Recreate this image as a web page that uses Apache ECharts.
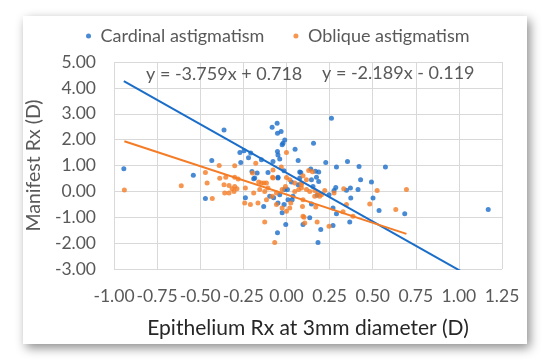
<!DOCTYPE html>
<html><head><meta charset="utf-8">
<script src="https://cdn.jsdelivr.net/npm/echarts@6/dist/echarts.min.js"></script>
<style>html,body{margin:0;padding:0;background:#fff}#c{width:550px;height:362px}</style>
</head><body><div id="c"></div>
<script>
const seriesNames = ['Cardinal astigmatism', 'Oblique astigmatism'];
const cardinalX = [-0.943,-0.54,-0.362,-0.433,-0.27,-0.246,-0.207,-0.22,-0.265,-0.145,-0.083,-0.054,-0.052,-0.031,-0.01,-0.02,-0.025,-0.052,-0.049,-0.039,-0.078,0.05,0.068,0.077,0.083,-0.014,-0.2,-0.17,-0.107,-0.049,-0.19,0.261,0.157,0.228,0.354,0.29,0.421,0.574,0.141,0.168,0.187,0.174,0.43,0.077,0.145,0.187,0.154,0.247,0.286,0.276,0.371,0.415,0.348,0.493,0.373,0.502,0.537,0.686,1.17,0.27,0.29,0.367,0.27,0.199,0.183,0.135,0.096,0.145,0.178,-0.47,-0.238,-0.184,-0.049,-0.097,-0.132,-0.074,-0.039,-0.049,-0.052,-0.025,-0.004,-0.014,0.009,0.033,-0.01,0.006,0.038,0.029,0.068];
const cardinalY = [0.87,0.62,2.37,1.19,1.50,1.57,1.48,1.30,1.12,1.22,2.48,2.63,2.25,2.31,1.99,1.86,1.80,1.54,1.41,1.25,1.15,1.63,1.19,0.75,0.73,0.80,0.77,0.71,0.73,0.55,0.49,2.83,1.86,1.12,1.15,0.94,0.96,0.94,0.86,0.78,0.75,0.55,0.45,0.52,0.45,0.38,0.19,-0.13,0.15,0.03,0.13,0.07,0.04,0.36,-0.26,-0.26,-0.74,-0.86,-0.70,-0.64,-0.86,-1.18,-1.32,-1.47,-1.98,-1.02,-1.28,-0.49,-0.15,-0.28,-0.25,0.52,0.52,-0.19,-0.58,-0.25,-0.13,-0.45,-1.60,-0.83,-1.28,-0.51,-0.32,-0.32,0.07,0.07,-0.19,0.36,0.26];
const obliqueX = [-0.94,-0.61,0.0,-0.03,-0.39,-0.47,-0.30,-0.197,-0.178,-0.078,-0.387,-0.352,-0.30,-0.28,-0.08,0.129,0.151,0.096,-0.43,-0.46,-0.362,-0.333,-0.315,-0.30,-0.287,-0.304,-0.358,-0.333,-0.238,-0.19,-0.242,-0.209,-0.165,-0.161,-0.145,-0.13,-0.116,-0.078,-0.155,-0.126,-0.107,-0.116,-0.083,-0.058,-0.025,-0.058,-0.126,-0.068,-0.025,0.0,0.019,0.025,-0.006,0.048,0.048,0.071,0.087,0.096,0.096,0.087,0.0,0.019,0.116,0.087,0.116,0.135,0.164,0.183,0.203,0.222,0.193,0.164,0.276,0.332,0.526,0.696,0.483,0.634,0.348,0.247,0.178,0.106,0.102,0.093,0.17,0.328,0.386];
const obliqueY = [0.05,0.22,1.50,0.94,1.00,0.73,0.99,0.71,1.09,0.83,0.51,0.55,0.55,0.48,0.55,0.81,0.76,0.60,-0.28,0.32,0.26,0.23,0.10,0.19,0.10,0.00,-0.06,-0.06,0.13,-0.06,-0.45,-0.51,-0.45,0.36,0.32,0.32,0.32,0.52,0.07,0.00,0.13,-0.32,-0.19,-0.06,0.07,-0.51,-1.18,-1.98,-0.64,-0.77,-0.64,-0.45,0.19,0.00,0.32,0.07,0.13,-0.32,-0.96,0.32,0.54,0.45,0.45,0.26,0.07,0.00,0.03,-0.06,-0.13,0.03,-0.19,-0.19,-0.06,0.10,0.03,0.07,-0.49,-0.70,-0.51,-1.35,-1.18,-1.22,-1.00,-0.58,-0.60,-0.79,-0.96];
// Trendline equations as printed on the chart
const trendSlope = [-3.759, -2.189];
const trendIntercept = [0.718, -0.119];
const trendLabels = ['y = -3.759x + 0.718', 'y = -2.189x - 0.119'];
const xTicks = {min: -1.0, max: 1.25, step: 0.25};
const yTicks = {min: -3.0, max: 5.0, step: 1.0};

const colors = ['#1a6dc8', '#f47c26'];
const FONT = 'Lato';
const TXT = '#595959';

function pairs(xs, ys){ return xs.map((x,i)=>[x, ys[i]]); }
function trend(xs, k){
  const lo = Math.min(...xs), hi = Math.max(...xs);
  return [[lo, trendSlope[k]*lo + trendIntercept[k]], [hi, trendSlope[k]*hi + trendIntercept[k]]];
}
const allX = [cardinalX, obliqueX];

const chart = echarts.init(document.getElementById('c'), null, {renderer:'canvas'});
chart.setOption({
  animation: false,
  color: colors,
  textStyle: {fontFamily: FONT, color: TXT},
  graphic: [
    {type:'rect', z:-10, shape:{x:23,y:16,width:504,height:328},
     style:{fill:'#fff', shadowBlur:10, shadowColor:'rgba(0,0,0,0.45)', shadowOffsetX:3, shadowOffsetY:4}},
    {type:'text', z:10, left: 146, top: 65, style:{text: trendLabels[0], font: '18px Lato', fill: TXT}},
    {type:'text', z:10, left: 322, top: 64, style:{text: trendLabels[1], font: '18px Lato', fill: TXT}}
  ],
  legend: {
    data: seriesNames, top: 22, left: 81, itemGap: 29, itemWidth: 14, itemHeight: 5, icon: 'circle',
    textStyle: {fontFamily: FONT, fontSize: 18, color: TXT}
  },
  grid: {left: 114, right: 48, top: 62, bottom: 93, containLabel: false},
  xAxis: {
    type: 'value', min: xTicks.min, max: xTicks.max, interval: xTicks.step,
    name: 'Epithelium Rx at 3mm diameter (D)', nameLocation: 'middle', nameGap: 49,
    nameTextStyle: {fontFamily: FONT, fontSize: 21, color: '#262626'},
    axisLine: {show: false}, axisTick: {show: false},
    axisLabel: {formatter: v => v.toFixed(2), fontSize: 17.5, color: TXT, margin: 18, fontFamily: FONT},
    splitLine: {show: true, lineStyle: {color: '#d9d9d9', width: 1}}
  },
  yAxis: {
    type: 'value', min: yTicks.min, max: yTicks.max, interval: yTicks.step,
    name: 'Manifest Rx (D)', nameLocation: 'middle', nameGap: 58,
    nameTextStyle: {fontFamily: FONT, fontSize: 19.5, color: TXT},
    axisLine: {show: false}, axisTick: {show: false},
    axisLabel: {formatter: v => v.toFixed(2), fontSize: 17.5, color: TXT, margin: 18, fontFamily: FONT},
    splitLine: {show: true, lineStyle: {color: '#d9d9d9', width: 1}}
  },
  series: [
    {name: seriesNames[0], type: 'scatter', symbolSize: 5, data: pairs(cardinalX, cardinalY), itemStyle:{color: colors[0]}, z: 3},
    {name: seriesNames[1], type: 'scatter', symbolSize: 5, data: pairs(obliqueX, obliqueY), itemStyle:{color: colors[1]}, z: 4},
    {name: 'trend0', type: 'line', data: trend(allX[0], 0), symbol: 'none', lineStyle:{color: colors[0], width: 2}, clip: true, z: 5, silent: true},
    {name: 'trend1', type: 'line', data: trend(allX[1], 1), symbol: 'none', lineStyle:{color: colors[1], width: 2}, clip: true, z: 5, silent: true}
  ]
});
</script></body></html>
